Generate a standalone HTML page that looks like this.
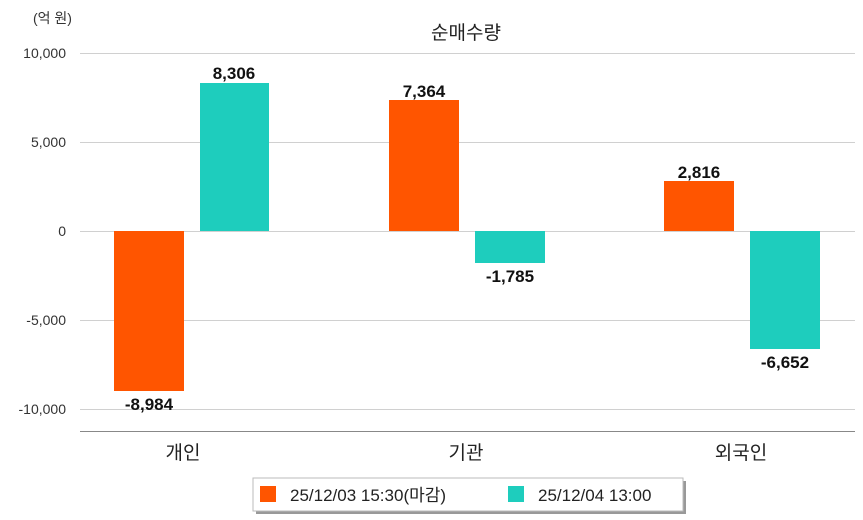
<!DOCTYPE html>
<html><head><meta charset="utf-8"><style>
body{margin:0;background:#fff;}
svg{display:block;font-family:"Liberation Sans","Noto Sans CJK KR",sans-serif;}
</style></head><body>
<svg width="863" height="520" viewBox="0 0 863 520" xmlns="http://www.w3.org/2000/svg">
<rect width="863" height="520" fill="#fff"/>
<text x="33" y="23" font-size="14" fill="#333">(억 원)</text>
<text x="466" y="39" font-size="19" fill="#222" text-anchor="middle">순매수량</text>
<g stroke="#d0d0d0" stroke-width="1">
<line x1="80" y1="53.5" x2="855" y2="53.5"/>
<line x1="80" y1="142.5" x2="855" y2="142.5"/>
<line x1="80" y1="231.5" x2="855" y2="231.5"/>
<line x1="80" y1="320.5" x2="855" y2="320.5"/>
<line x1="80" y1="409.5" x2="855" y2="409.5"/>
</g>
<line x1="80" y1="431.5" x2="855" y2="431.5" stroke="#888" stroke-width="1"/>
<g font-size="14" fill="#333" text-anchor="end">
<text x="66" y="58">10,000</text>
<text x="66" y="147">5,000</text>
<text x="66" y="236">0</text>
<text x="66" y="325">-5,000</text>
<text x="66" y="414">-10,000</text>
</g>
<g fill="#FF5500">
<rect x="114" y="231" width="70" height="160"/>
<rect x="389" y="100" width="70" height="131"/>
<rect x="664" y="181" width="70" height="50"/>
</g>
<g fill="#1ECDBD">
<rect x="200" y="83" width="69" height="148"/>
<rect x="475" y="231" width="70" height="32"/>
<rect x="750" y="231" width="70" height="118"/>
</g>
<g font-size="17" font-weight="bold" fill="#111" text-anchor="middle">
<text x="149" y="410">-8,984</text>
<text x="234" y="79">8,306</text>
<text x="424" y="97">7,364</text>
<text x="510" y="282">-1,785</text>
<text x="699" y="178">2,816</text>
<text x="785" y="368">-6,652</text>
</g>
<g font-size="19" fill="#222" text-anchor="middle">
<text x="183" y="459">개인</text>
<text x="466" y="459">기관</text>
<text x="741" y="459">외국인</text>
</g>
<rect x="256" y="481" width="430" height="33" fill="#999"/>
<rect x="253" y="478" width="430" height="33" fill="#fff" stroke="#bbb"/>
<rect x="260" y="486" width="16" height="16" fill="#FF5500"/>
<text x="290" y="501" font-size="17" fill="#222">25/12/03 15:30(마감)</text>
<rect x="508" y="486" width="16" height="16" fill="#1ECDBD"/>
<text x="538" y="501" font-size="17" fill="#222">25/12/04 13:00</text>
</svg>
</body></html>
